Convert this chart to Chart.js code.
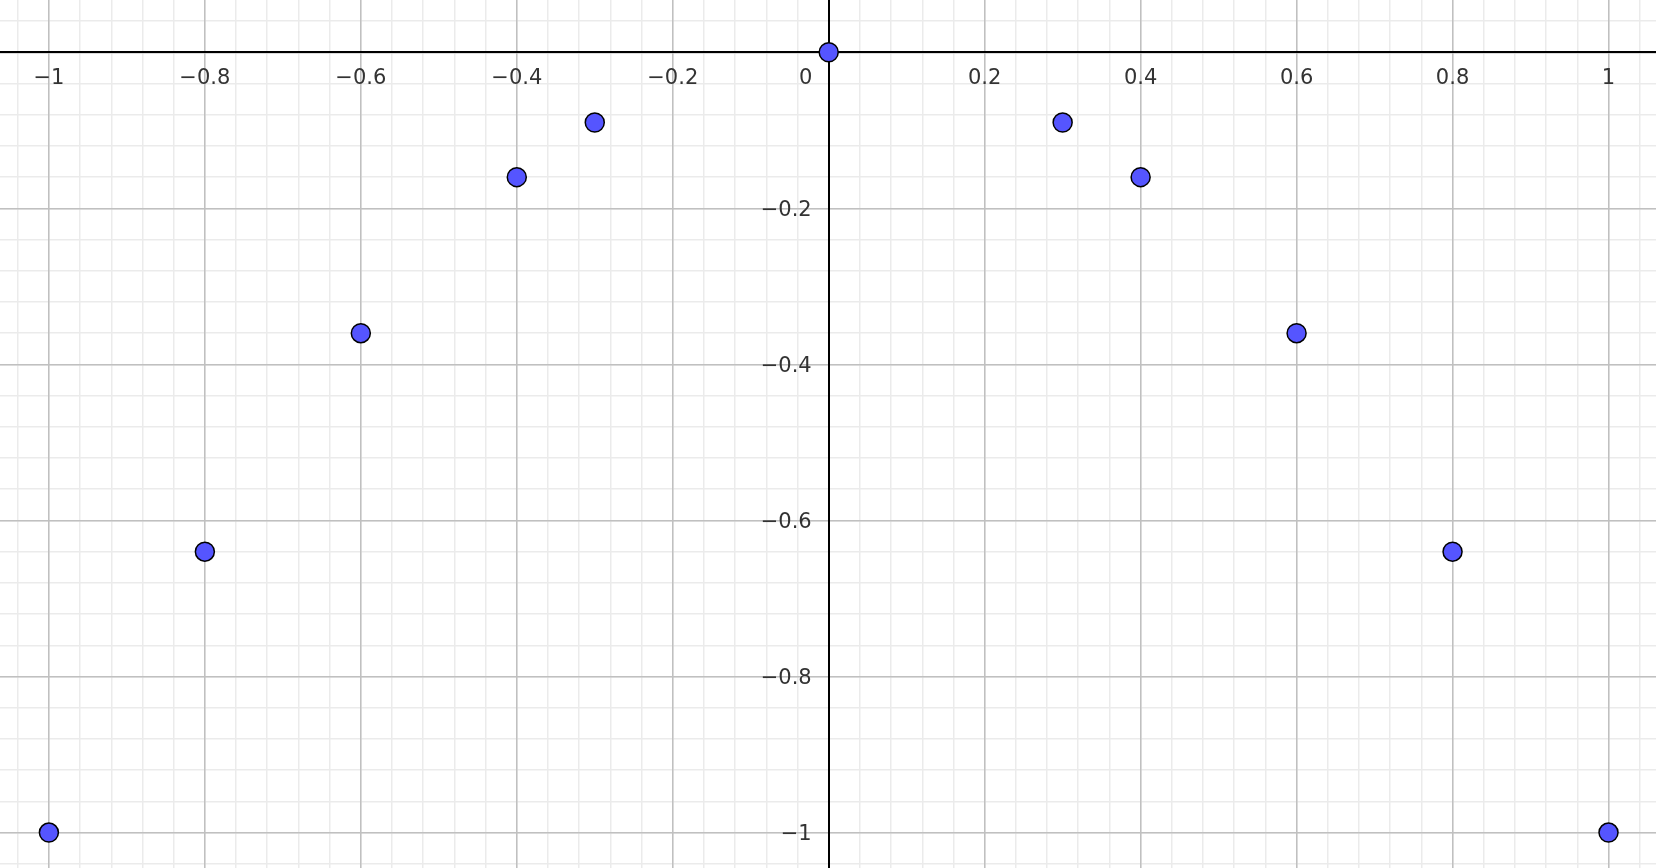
<!DOCTYPE html>
<html>
<head>
<meta charset="utf-8">
<script src="https://cdn.jsdelivr.net/npm/chart.js@4/dist/chart.umd.min.js"></script>
<style>
  html, body { margin: 0; padding: 0; background: #fff; }
  #wrap { width: 1656px; height: 868px; }
</style>
</head>
<body>
<div id="wrap"><canvas id="graph"></canvas></div>
<script>
// points of y = -x^2
const xValues = [-1, -0.8, -0.6, -0.4, -0.3, 0, 0.3, 0.4, 0.6, 0.8, 1];
const yValues = [-1, -0.64, -0.36, -0.16, -0.09, 0, -0.09, -0.16, -0.36, -0.64, -1];

const xTicks = [-1, -0.8, -0.6, -0.4, -0.2, 0, 0.2, 0.4, 0.6, 0.8, 1];
const yTicks = [-1, -0.8, -0.6, -0.4, -0.2, 0];

const xRange = [-1.0627, 1.0609];
const yRange = [-1.0454, 0.067];

const labelFont = { family: 'DejaVu Sans', size: 21 };

function tickText(v) {
  if (Math.abs(v) < 1e-9) return '';
  const s = String(Math.round(Math.abs(v) * 10) / 10);
  return v < 0 ? '\u2212' + s : s;
}

function noPad(s) {
  s.paddingLeft = s.paddingRight = s.paddingTop = s.paddingBottom = 0;
}

// y labels sit a bit left of the y axis, and the x axis "0" beside it;
// chart.js ignores tick padding for an axis placed at a value, so draw them here
const axisLabels = {
  id: 'axisLabels',
  afterDraw(chart) {
    const c = chart.ctx;
    const sx = chart.scales.x, sy = chart.scales.y;
    const ax = sx.getPixelForValue(0);
    const ay = sy.getPixelForValue(0);
    c.save();
    c.font = labelFont.size + 'px "' + labelFont.family + '"';
    c.fillStyle = '#333';
    c.textAlign = 'right';
    c.textBaseline = 'middle';
    yTicks.forEach(v => {
      const t = tickText(v);
      if (t) c.fillText(t, ax - 17, sy.getPixelForValue(v) + 2);
    });
    c.textAlign = 'center';
    c.textBaseline = 'top';
    c.fillText('0', ax - 23, ay + 16);
    c.restore();
  }
};

const ctx = document.getElementById('graph').getContext('2d');
new Chart(ctx, {
  type: 'scatter',
  data: {
    datasets: [{
      data: xValues.map((x, i) => ({ x: x, y: yValues[i] })),
      pointRadius: 9.5,
      pointHoverRadius: 9.5,
      pointBackgroundColor: '#5555ff',
      pointBorderColor: '#000',
      pointBorderWidth: 1.5,
    }]
  },
  options: {
    responsive: true,
    maintainAspectRatio: false,
    animation: false,
    layout: { padding: 0, autoPadding: false },
    plugins: {
      legend: { display: false },
      tooltip: { enabled: false },
    },
    scales: {
      xMinor: {
        type: 'linear', axis: 'x',
        min: xRange[0], max: xRange[1],
        position: { y: 0 },
        afterFit: noPad,
        ticks: { display: false, stepSize: 0.04, includeBounds: false },
        grid: { color: '#ebebeb', lineWidth: 1.5, drawTicks: false, z: -2 },
        border: { display: false },
      },
      yMinor: {
        type: 'linear', axis: 'y',
        min: yRange[0], max: yRange[1],
        position: { x: 0 },
        afterFit: noPad,
        ticks: { display: false, stepSize: 0.04, includeBounds: false },
        grid: { color: '#ebebeb', lineWidth: 1.5, drawTicks: false, z: -2 },
        border: { display: false },
      },
      x: {
        type: 'linear',
        min: xRange[0], max: xRange[1],
        position: { y: 0 },
        afterFit: noPad,
        afterBuildTicks: s => { s.ticks = xTicks.map(v => ({ value: v })); },
        ticks: {
          font: labelFont, color: '#333', padding: 14,
          maxRotation: 0, autoSkip: false,
          callback: v => tickText(v),
        },
        grid: { color: '#c0c0c0', lineWidth: 1.5, drawTicks: false, z: -1 },
        border: { color: '#000', width: 2 },
      },
      y: {
        type: 'linear',
        min: yRange[0], max: yRange[1],
        position: { x: 0 },
        afterFit: noPad,
        afterBuildTicks: s => { s.ticks = yTicks.map(v => ({ value: v })); },
        ticks: { display: false },
        grid: { color: '#c0c0c0', lineWidth: 1.5, drawTicks: false, z: -1 },
        border: { color: '#000', width: 2 },
      },
    }
  },
  plugins: [axisLabels]
});
</script>
</body>
</html>
